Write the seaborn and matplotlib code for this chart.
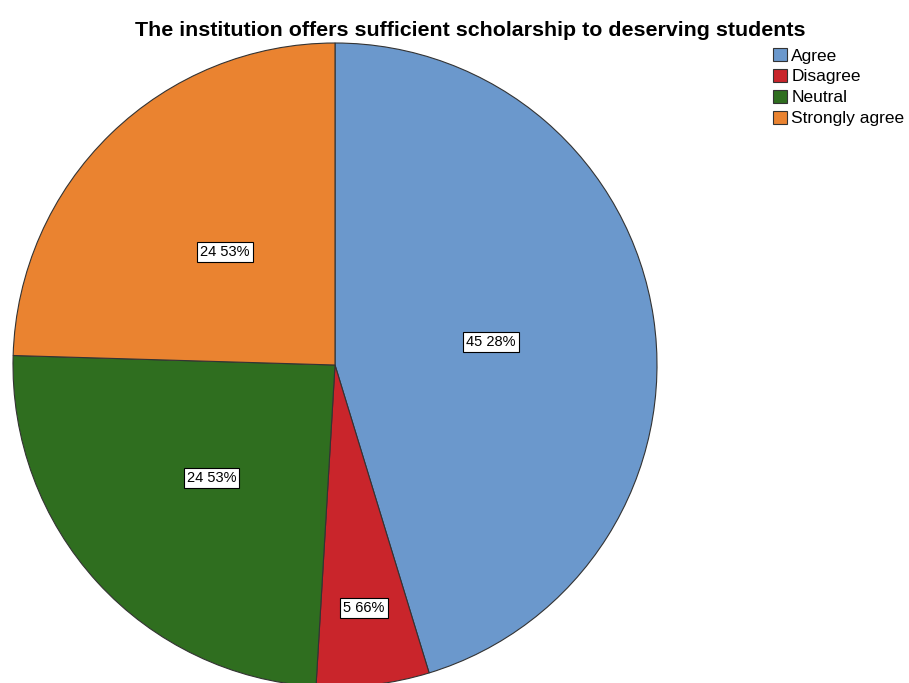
import numpy as np
import matplotlib
matplotlib.use("Agg")
import matplotlib.pyplot as plt
import seaborn as sns

categories = ["Agree", "Disagree", "Neutral", "Strongly agree"]
percents = [45.28, 5.66, 24.53, 24.53]
label_texts = ["45 28%", "5 66%", "24 53%", "24 53%"]
colors = ["#6b98cc", "#c9252b", "#2f6e1f", "#ea8330"]

sns.set_theme(style="white")
plt.rcParams["font.family"] = ["Liberation Sans", "DejaVu Sans"]
plt.rcParams["text.color"] = "black"

fig = plt.figure(figsize=(9.09, 6.83), dpi=100)
ax = fig.add_axes([13 / 909, -4 / 683, 644 / 909, 644 / 683])

wedges, _ = ax.pie(percents, colors=colors, startangle=90, counterclock=False,
                   wedgeprops=dict(edgecolor="#333333", linewidth=0.8))

# label distance per slice (SPSS-ish placement)
dists = [0.49, 0.76, 0.52, 0.49]
for w, txt, d in zip(wedges, label_texts, dists):
    ang = np.deg2rad((w.theta1 + w.theta2) / 2)
    ax.text(d * np.cos(ang), d * np.sin(ang), txt, ha="center", va="center",
            fontsize=10.5, color="black",
            bbox=dict(boxstyle="square,pad=0.2", fc="white", ec="black", lw=0.8))
ax.set_aspect("equal")
ax.set_xlim(-1.0, 1.0)
ax.set_ylim(-1.0, 1.0)

fig.text(0.517, 0.955, "The institution offers sufficient scholarship to deserving students",
         ha="center", va="center", fontsize=15.4, fontweight="bold", color="black")

fig.legend(wedges, categories, loc="upper left", bbox_to_anchor=(0.843, 0.94),
           frameon=False, fontsize=12.5, handlelength=0.8, handleheight=0.8,
           handletextpad=0.25, labelspacing=0.3, borderaxespad=0,
           labelcolor="black")

fig.savefig("out.png", dpi=100)
